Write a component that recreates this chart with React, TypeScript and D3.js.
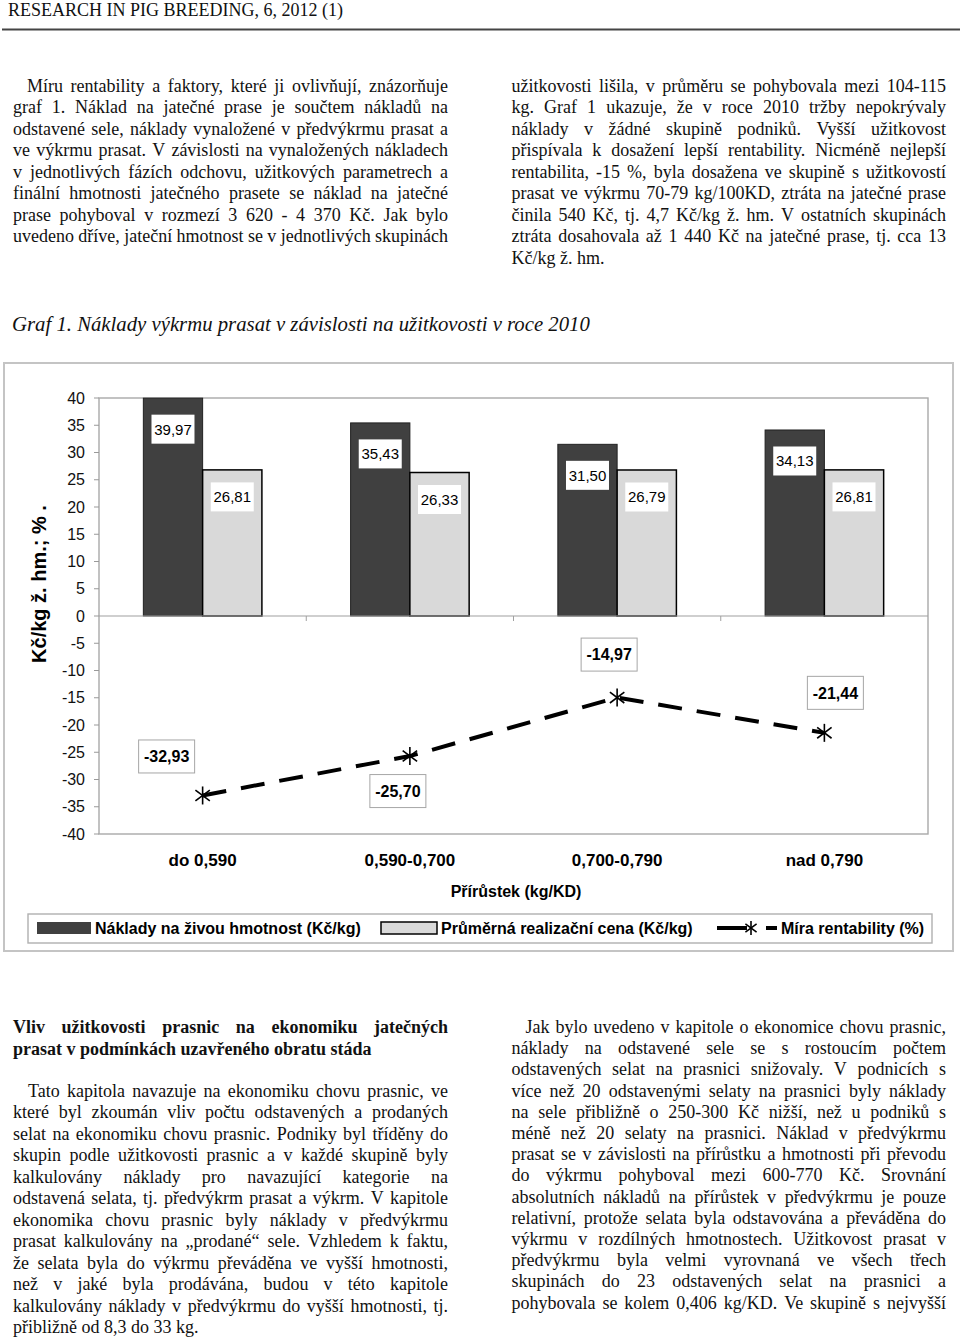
import React from "react";
import * as d3 from "d3";

// chart data (Graf 1)
const categories = ["do 0,590", "0,590-0,700", "0,700-0,790", "nad 0,790"];
const costs = [39.97, 35.43, 31.5, 34.13];
const prices = [26.81, 26.33, 26.79, 26.81];
const rentability = [-32.93, -25.7, -14.97, -21.44];
const yTicks = d3.range(-40, 41, 5);
const seriesNames = [
  "Náklady na živou hmotnost (Kč/kg)",
  "Průměrná realizační cena (Kč/kg)",
  "Míra rentability (%)",
];
const yTitle = "Kč/kg ž. hm.; % .";
const xTitle = "Přírůstek (kg/KD)";

// page text
const header = "RESEARCH IN PIG BREEDING, 6, 2012 (1)";
const caption = "Graf 1. Náklady výkrmu prasat v závislosti na užitkovosti v roce 2010";
const topLeft = [
  "Míru rentability a faktory, které ji ovlivňují, znázorňuje",
  "graf 1. Náklad na jatečné prase je součtem nákladů na",
  "odstavené sele, náklady vynaložené v předvýkrmu prasat a",
  "ve výkrmu prasat. V závislosti na vynaložených nákladech",
  "v jednotlivých fázích odchovu, užitkových parametrech a",
  "finální hmotnosti jatečného prasete se náklad na jatečné",
  "prase pohyboval v rozmezí 3 620 - 4 370 Kč. Jak bylo",
  "uvedeno dříve, jateční hmotnost se v jednotlivých skupinách",
];
const topRight = [
  "užitkovosti lišila, v průměru se pohybovala mezi 104-115",
  "kg. Graf 1 ukazuje, že v roce 2010 tržby nepokrývaly",
  "náklady v žádné skupině podniků. Vyšší užitkovost",
  "přispívala k dosažení lepší rentability. Nicméně nejlepší",
  "rentabilita, -15 %, byla dosažena ve skupině s užitkovostí",
  "prasat ve výkrmu 70-79 kg/100KD, ztráta na jatečné prase",
  "činila 540 Kč, tj. 4,7 Kč/kg ž. hm. V ostatních skupinách",
  "ztráta dosahovala až 1 440 Kč na jatečné prase, tj. cca 13",
  "Kč/kg ž. hm.",
];
const heading = [
  "Vliv užitkovosti prasnic na ekonomiku jatečných",
  "prasat v podmínkách uzavřeného obratu stáda",
];
const bottomLeft = [
  "Tato kapitola navazuje na ekonomiku chovu prasnic, ve",
  "které byl zkoumán vliv počtu odstavených a prodaných",
  "selat na ekonomiku chovu prasnic. Podniky byl tříděny do",
  "skupin podle užitkovosti prasnic a v každé skupině byly",
  "kalkulovány náklady pro navazující kategorie na",
  "odstavená selata, tj. předvýkrm prasat a výkrm. V kapitole",
  "ekonomika chovu prasnic byly náklady v předvýkrmu",
  "prasat kalkulovány na „prodané“ sele. Vzhledem k faktu,",
  "že selata byla do výkrmu převáděna ve vyšší hmotnosti,",
  "než v jaké byla prodávána, budou v této kapitole",
  "kalkulovány náklady v předvýkrmu do vyšší hmotnosti, tj.",
  "přibližně od 8,3 do 33 kg.",
];
const bottomRight = [
  "Jak bylo uvedeno v kapitole o ekonomice chovu prasnic,",
  "náklady na odstavené sele se s rostoucím počtem",
  "odstavených selat na prasnici snižovaly. V podnicích s",
  "více než 20 odstavenými selaty na prasnici byly náklady",
  "na sele přibližně o 250-300 Kč nižší, než u podniků s",
  "méně než 20 selaty na prasnici. Náklad v předvýkrmu",
  "prasat se v závislosti na přírůstku a hmotnosti při převodu",
  "do výkrmu pohyboval mezi 600-770 Kč. Srovnání",
  "absolutních nákladů na přírůstek v předvýkrmu je pouze",
  "relativní, protože selata byla odstavována a převáděna do",
  "výkrmu v rozdílných hmotnostech. Užitkovost prasat v",
  "předvýkrmu byla velmi vyrovnaná ve všech třech",
  "skupinách do 23 odstavených selat na prasnici a",
  "pohybovala se kolem 0,406 kg/KD. Ve skupině s nejvyšší",
];

const SERIF = '"Liberation Serif", "Times New Roman", serif';
const SANS = '"Liberation Sans", Arial, sans-serif';

const ctx = document.createElement("canvas").getContext("2d");

const fmt = d3.formatLocale({
  decimal: ",",
  thousands: " ",
  grouping: [3],
  currency: ["", ""],
  minus: "-",
}).format(".2f");

// hand-placed offsets of the rentability labels (as in the original chart)
const lineLabelNudge = [
  [-36, -39],
  [-12, 35],
  [-8, -43],
  [11, -40],
];

const TextBlock = ({ lines, x0, x1, y0, lh, indent = 0, weight = "normal", ragged = true }) => {
  ctx.font = `${weight} 18px "Liberation Serif"`;
  const space = ctx.measureText(" ").width;
  return (
    <g fontFamily={SERIF} fontSize={18} fontWeight={weight} fill="#111">
      {lines.map((line, i) => {
        const y = y0 + i * lh;
        const xs = x0 + (i === 0 ? indent : 0);
        const W = x1 - xs;
        const words = line.split(" ");
        if ((ragged && i === lines.length - 1) || words.length < 2) {
          return (
            <text key={i} x={xs} y={y}>
              {line}
            </text>
          );
        }
        const widths = words.map((w) => ctx.measureText(w).width);
        const gap = (W - d3.sum(widths)) / (words.length - 1);
        if (gap < space * 0.6) {
          return (
            <text key={i} x={xs} y={y} textLength={W} lengthAdjust="spacingAndGlyphs">
              {line}
            </text>
          );
        }
        let cx = xs;
        return (
          <text key={i} y={y}>
            {words.map((w, j) => {
              const el = (
                <tspan key={j} x={cx}>
                  {w}
                </tspan>
              );
              cx += widths[j] + gap;
              return el;
            })}
          </text>
        );
      })}
    </g>
  );
};

const Asterisk = ({ x, y, r = 9 }) => (
  <g stroke="#000" strokeWidth={1.6}>
    <line x1={x} y1={y - r} x2={x} y2={y + r} />
    <line x1={x - r * 0.8} y1={y - r * 0.6} x2={x + r * 0.8} y2={y + r * 0.6} />
    <line x1={x - r * 0.8} y1={y + r * 0.6} x2={x + r * 0.8} y2={y - r * 0.6} />
  </g>
);

const Chart = () => {
  const left = 99;
  const right = 928;
  const top = 398;
  const bottom = 834;

  const x = d3.scaleBand().domain(categories).range([left, right]).paddingInner(0.428).paddingOuter(0.214);
  const x1 = d3.scaleBand().domain(["cost", "price"]).range([0, x.bandwidth()]);
  const y = d3.scaleLinear().domain([-40, 40]).range([bottom, top]);
  const step = x.step();
  const cx = (c) => x(c) + x.bandwidth() / 2;

  const line = d3
    .line()
    .x((d, i) => cx(categories[i]))
    .y((d) => y(d));

  return (
    <g>
      <rect x={4} y={363} width={949} height={588} fill="#fff" stroke="#c4c4c4" strokeWidth={2} />
      <rect x={left} y={top} width={right - left} height={bottom - top} fill="none" stroke="#a9a9a9" strokeWidth={1.4} />

      {/* y axis */}
      <g fontFamily={SANS} fontSize={16} fill="#111">
        {yTicks.map((t) => (
          <g key={t}>
            <line x1={left - 5} x2={left} y1={y(t)} y2={y(t)} stroke="#999" />
            <text x={85} y={y(t)} dy="0.35em" textAnchor="end">
              {String(t)}
            </text>
          </g>
        ))}
      </g>
      <text
        transform={`translate(46,584) rotate(-90)`}
        textAnchor="middle"
        fontFamily={SANS}
        fontSize={20}
        fontWeight="bold"
      >
        {yTitle}
      </text>

      {/* bars */}
      {categories.map((c, i) => (
        <g key={c}>
          <rect x={x(c) + x1("cost")} y={y(costs[i])} width={x1.bandwidth()} height={y(0) - y(costs[i])} fill="#404040" stroke="#222" strokeWidth={1} />
          <rect x={x(c) + x1("price")} y={y(prices[i])} width={x1.bandwidth()} height={y(0) - y(prices[i])} fill="#d9d9d9" stroke="#000" strokeWidth={1.5} />
        </g>
      ))}

      {/* zero axis with category ticks */}
      <line x1={left} x2={right} y1={y(0)} y2={y(0)} stroke="#a0a0a0" strokeWidth={1.2} />
      {categories.slice(1).map((c) => (
        <line key={c} x1={x(c) - (step - x.bandwidth()) / 2} x2={x(c) - (step - x.bandwidth()) / 2} y1={y(0)} y2={y(0) + 5} stroke="#a0a0a0" />
      ))}

      {/* bar labels */}
      <g fontFamily={SANS} fontSize={15} textAnchor="middle">
        {categories.map((c, i) => {
          const bx = x(c) + x1("cost") + x1.bandwidth() / 2;
          const by = y(costs[i]) + 31;
          const lx = x(c) + x1("price") + x1.bandwidth() / 2;
          const ly = y(prices[i]) + 27;
          return (
            <g key={c}>
              <rect x={bx - 21.5} y={by - 14.5} width={43} height={29} fill="#fff" />
              <text x={bx} y={by} dy="0.36em">{fmt(costs[i])}</text>
              <rect x={lx - 21.5} y={ly - 14.5} width={43} height={29} fill="#fff" />
              <text x={lx} y={ly} dy="0.36em">{fmt(prices[i])}</text>
            </g>
          );
        })}
      </g>

      {/* rentability line */}
      <path d={line(rentability)} fill="none" stroke="#000" strokeWidth={4} strokeDasharray="24 15" />
      {rentability.map((v, i) => (
        <Asterisk key={i} x={cx(categories[i])} y={y(v)} />
      ))}
      <g fontFamily={SANS} fontSize={16} fontWeight="bold" textAnchor="middle">
        {rentability.map((v, i) => {
          const px = cx(categories[i]) + lineLabelNudge[i][0];
          const py = y(v) + lineLabelNudge[i][1];
          return (
            <g key={i}>
              <rect x={px - 28} y={py - 16.5} width={56} height={33} fill="#fff" stroke="#a6a6a6" strokeWidth={1} />
              <text x={px} y={py} dy="0.36em">{fmt(v)}</text>
            </g>
          );
        })}
      </g>

      {/* category labels */}
      <g fontFamily={SANS} fontSize={17} fontWeight="bold" textAnchor="middle">
        {categories.map((c) => (
          <text key={c} x={cx(c)} y={866}>
            {c}
          </text>
        ))}
      </g>
      <text x={516} y={897} textAnchor="middle" fontFamily={SANS} fontSize={16} fontWeight="bold">
        {xTitle}
      </text>

      {/* legend */}
      <rect x={28} y={914} width={904} height={29} fill="#fff" stroke="#b0b0b0" strokeWidth={1.4} />
      <g fontFamily={SANS} fontSize={16} fontWeight="bold">
        <rect x={37} y={922} width={54} height={12} fill="#404040" />
        <text x={95} y={934}>{seriesNames[0]}</text>
        <rect x={381} y={922} width={56} height={12} fill="#d9d9d9" stroke="#000" strokeWidth={1.5} />
        <text x={441} y={934}>{seriesNames[1]}</text>
        <line x1={717} x2={777} y1={928} y2={928} stroke="#000" strokeWidth={4} strokeDasharray="30 19" />
        <Asterisk x={751} y={928} r={7} />
        <text x={781} y={934}>{seriesNames[2]}</text>
      </g>
    </g>
  );
};

const Caption = () => {
  ctx.font = `italic 20px "Liberation Serif"`;
  const w = ctx.measureText(caption).width;
  const size = (20 * 578) / w;
  return (
    <text x={12} y={331} fontFamily={SERIF} fontStyle="italic" fontSize={size} fill="#111">
      {caption}
    </text>
  );
};

export default function App() {
  return (
    <svg
      width={960}
      height={1337}
      style={{ position: "absolute", left: 0, top: 0, background: "#fff" }}
    >
      <rect width={960} height={1337} fill="#fff" />
      <text x={8} y={16} fontFamily={SERIF} fontSize={18} fill="#111">
        {header}
      </text>
      <line x1={2} x2={960} y1={29.5} y2={29.5} stroke="#444" strokeWidth={2.2} />

      <TextBlock lines={topLeft} x0={13} x1={448} y0={91.5} lh={21.57} indent={14} ragged={false} />
      <TextBlock lines={topRight} x0={511.5} x1={946} y0={91.5} lh={21.57} />

      <Caption />
      <Chart />

      <TextBlock lines={heading} x0={13} x1={448} y0={1033} lh={21.6} weight="bold" />
      <TextBlock lines={bottomLeft} x0={13} x1={448} y0={1097} lh={21.45} indent={15} />
      <TextBlock lines={bottomRight} x0={511.5} x1={946} y0={1033} lh={21.2} indent={14} ragged={false} />
    </svg>
  );
}
